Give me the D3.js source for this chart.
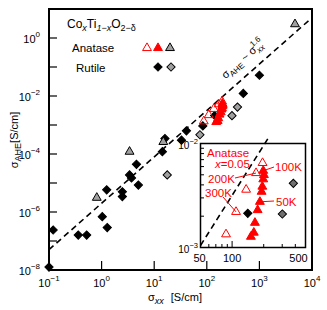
<!DOCTYPE html>
<html>
<head>
<meta charset="utf-8">
<script src="https://cdn.jsdelivr.net/npm/d3@7"></script>
<style>
  body { margin: 0; background: #fff; }
  svg { display: block; font-family: "Liberation Sans", Arial, sans-serif; }
</style>
</head>
<body>
<svg id="chart" width="327" height="310"></svg>
<script>
// Rutile, black diamonds [sigma_xx, sigma_AHE] in S/cm
const rutileBlack = [
  [0.1, 1.26e-8], [0.12, 2.4e-7], [0.36, 1.6e-7], [0.52, 1.6e-7],
  [1.03, 6.9e-7], [1.28, 2.9e-7], [1.25, 5.8e-6], [2.48, 5.0e-6],
  [2.48, 3.4e-6], [3.4, 1.9e-5], [3.7, 1.5e-5], [4.6, 4.4e-5],
  [5.0, 8.5e-6], [14.3, 1.2e-4], [16.0, 3.4e-4], [33, 3.0e-4],
  [41, 6.3e-4], [84, 9.3e-4], [141, 2.13e-3], [494, 1.23e-2], [1000, 5.2e-2]
];
// Rutile, grey diamonds
const rutileGrey = [[17.7, 1.9e-5], [74, 4.6e-4], [301, 2.1e-3], [383, 4.14e-3]];
// Anatase, grey triangles
const anataseGrey = [[0.81, 3.1e-6], [3.4, 1.2e-4], [14.9, 2.6e-4], [4750, 3.0]];
// Anatase x=0.05, open red triangles (high T)
const anataseOpen = [[195, 6.5e-3], [169, 5.2e-3], [136, 3.6e-3], [109, 2.2e-3], [87.5, 1.34e-3]];
// Anatase x=0.05, filled red triangles (low T)
const anataseFilled = [
  [198, 5.47e-3], [201, 4.98e-3], [198, 4.53e-3], [194, 3.85e-3], [191, 3.44e-3],
  [184, 2.75e-3], [175, 2.29e-3], [165, 1.73e-3], [161, 1.39e-3], [151, 1.27e-3]
];
// power law sigma_AHE = A * sigma_xx^1.6
const powerExp = 1.6;
const powerPrefactor = 2.0e-6;

const xTickExps = [-1, 0, 1, 2, 3, 4];
const yMajorExps = [-8, -6, -4, -2, 0];
const yMinorExps = [-7, -5, -3, -1];
const insetXTicks = [50, 100, 500];
const insetXMinor = [60, 70, 80, 90, 200, 300, 400];
const insetYMinor = [2e-3, 3e-3, 4e-3, 5e-3, 6e-3, 7e-3, 8e-3, 9e-3];
// temperature annotations: label, target point, label anchor
const tempNotes = [
  { text: "100K", target: [198, 5.47e-3], lx: 275, ly: 171, ex: 274, ey: 167 },
  { text: "200K", target: [169, 5.2e-3], lx: 208, ly: 183, ex: 235, ey: 178 },
  { text: "300K", target: [109, 2.2e-3], lx: 205, ly: 197, ex: 223, ey: 197 },
  { text: "50K", target: [184, 2.75e-3], lx: 276, ly: 206, ex: 274, ey: 201 }
];

const svg = d3.select("#chart");
const RED = "#ff0000";

const x = d3.scaleLog().domain([1e-1, 1e4]).range([49, 312]);
const y = d3.scaleLog().domain([1e-8, 1e1]).range([270, 9]);

const powerLaw = s => powerPrefactor * Math.pow(s, powerExp);

const triangle = d3.symbol().type(d3.symbolTriangle).size(34)();
const diamond = d3.symbol().type(d3.symbolSquare).size(34)();

function drawMarks(g, data, sx, sy, shape, fill, stroke, rotate) {
  g.selectAll(null)
    .data(data)
    .join("path")
    .attr("d", shape)
    .attr("transform", d => `translate(${sx(d[0])},${sy(d[1])})` + (rotate ? " rotate(45)" : ""))
    .attr("fill", fill)
    .attr("stroke", stroke)
    .attr("stroke-width", 1);
}

// ---- main plot ----
const main = svg.append("g");

// dashed power-law line
main.append("line")
  .attr("x1", x(1e-1)).attr("y1", y(powerLaw(1e-1)))
  .attr("x2", x(1e4)).attr("y2", y(powerLaw(1e4)))
  .attr("stroke", "#000").attr("stroke-width", 1.6)
  .attr("stroke-dasharray", "6,4");

// label along the line
{
  const sx = Math.pow(10, 2.87);
  const px = x(sx), py = y(powerLaw(sx));
  const ang = Math.atan2(y(powerLaw(1e4)) - y(powerLaw(1e-1)), x(1e4) - x(1e-1)) * 180 / Math.PI;
  const t = main.append("text")
    .attr("transform", `translate(${px},${py}) rotate(${ang}) translate(0,-11)`)
    .attr("text-anchor", "middle")
    .attr("font-size", 11);
  t.append("tspan").text("σ");
  t.append("tspan").attr("font-size", 8).attr("dy", 3).text("AHE");
  t.append("tspan").attr("dy", -3).text(" ~ σ");
  t.append("tspan").attr("font-size", 8).attr("dy", 3).attr("font-style", "italic").text("xx");
  t.append("tspan").attr("font-size", 8).attr("dx", -9).attr("dy", -9).text("1.6");
}

drawMarks(main, rutileBlack, x, y, diamond, "#000", "#000", true);
drawMarks(main, rutileGrey, x, y, diamond, "#a0a0a0", "#000", true);
drawMarks(main, anataseGrey, x, y, triangle, "#a0a0a0", "#000", false);
drawMarks(main, anataseFilled, x, y, triangle, RED, RED, false);
drawMarks(main, anataseOpen, x, y, triangle, "none", RED, false);

// frame
main.append("rect")
  .attr("x", 49).attr("y", 9).attr("width", 312 - 49).attr("height", 270 - 9)
  .attr("fill", "none").attr("stroke", "#000").attr("stroke-width", 2);

// x ticks
main.selectAll(null).data(xTickExps).join("line")
  .attr("x1", e => x(Math.pow(10, e))).attr("x2", e => x(Math.pow(10, e)))
  .attr("y1", 270).attr("y2", 261)
  .attr("stroke", "#000").attr("stroke-width", 1.2);
main.selectAll(null).data(xTickExps).join("text")
  .attr("x", e => x(Math.pow(10, e)))
  .attr("y", 287)
  .attr("text-anchor", "middle")
  .attr("font-size", 11)
  .each(function (e) {
    const t = d3.select(this);
    t.append("tspan").text("10");
    t.append("tspan").attr("font-size", 8).attr("dy", -6).text(e < 0 ? "−" + (-e) : e);
  });

// y ticks
main.selectAll(null).data(yMajorExps.concat(yMinorExps)).join("line")
  .attr("x1", 49).attr("x2", 57)
  .attr("y1", e => y(Math.pow(10, e))).attr("y2", e => y(Math.pow(10, e)))
  .attr("stroke", "#000").attr("stroke-width", 1.2);
main.selectAll(null).data(yMajorExps).join("text")
  .attr("x", 40)
  .attr("y", e => y(Math.pow(10, e)) + 5)
  .attr("text-anchor", "end")
  .attr("font-size", 11)
  .each(function (e) {
    const t = d3.select(this);
    t.append("tspan").text("10");
    t.append("tspan").attr("font-size", 8).attr("dy", -6).text(e < 0 ? "−" + (-e) : e);
  });

// axis titles
{
  const t = svg.append("text")
    .attr("transform", "translate(18,140) rotate(-90)")
    .attr("text-anchor", "middle")
    .attr("font-size", 11);
  t.append("tspan").text("σ");
  t.append("tspan").attr("font-size", 9).attr("dy", 3).text("AHE");
  t.append("tspan").attr("dy", -3).text("[S/cm]");
}
{
  const t = svg.append("text").attr("x", 148).attr("y", 301).attr("font-size", 11);
  t.append("tspan").text("σ");
  t.append("tspan").attr("font-size", 9).attr("dy", 3).attr("font-style", "italic").text("xx");
  t.append("tspan").attr("dy", -3).attr("dx", 7).text("[S/cm]");
}

// ---- legend ----
{
  const t = svg.append("text").attr("x", 67).attr("y", 28).attr("font-size", 12);
  t.append("tspan").text("Co");
  t.append("tspan").attr("font-size", 9).attr("dy", 3).attr("font-style", "italic").text("x");
  t.append("tspan").attr("dy", -3).text("Ti");
  t.append("tspan").attr("font-size", 9).attr("dy", 3).attr("font-style", "italic").text("1−x");
  t.append("tspan").attr("dy", -3).text("O");
  t.append("tspan").attr("font-size", 9).attr("dy", 3).text("2−δ");

  svg.append("text").attr("x", 72).attr("y", 52).attr("font-size", 11.5).text("Anatase");
  svg.append("text").attr("x", 76).attr("y", 72).attr("font-size", 11.5).text("Rutile");

  const legendTri = [
    { cx: 147, fill: "none", stroke: RED },
    { cx: 158, fill: RED, stroke: RED },
    { cx: 170, fill: "#a0a0a0", stroke: "#000" }
  ];
  svg.selectAll(null).data(legendTri).join("path")
    .attr("d", triangle)
    .attr("transform", d => `translate(${d.cx},48)`)
    .attr("fill", d => d.fill).attr("stroke", d => d.stroke);
  const legendDia = [
    { cx: 158, fill: "#000" },
    { cx: 171, fill: "#a0a0a0" }
  ];
  svg.selectAll(null).data(legendDia).join("path")
    .attr("d", diamond)
    .attr("transform", d => `translate(${d.cx},67) rotate(45)`)
    .attr("fill", d => d.fill).attr("stroke", "#000");
}

// ---- inset ----
const ix = d3.scaleLog().domain([50, 500]).range([200.5, 305.5]);
const iy = d3.scaleLog().domain([1e-3, 1e-2]).range([247.5, 143.5]);
const inset = svg.append("g");

inset.append("rect")
  .attr("x", 200.5).attr("y", 143.5).attr("width", 105).attr("height", 104)
  .attr("fill", "#fff");

inset.append("clipPath").attr("id", "insetClip")
  .append("rect").attr("x", 200.5).attr("y", 138).attr("width", 105).attr("height", 110);

inset.append("line")
  .attr("clip-path", "url(#insetClip)")
  .attr("x1", ix(50)).attr("y1", iy(powerLaw(50)))
  .attr("x2", ix(250)).attr("y2", iy(powerLaw(250)))
  .attr("stroke", "#000").attr("stroke-width", 1.6)
  .attr("stroke-dasharray", "6,4");

drawMarks(inset, rutileBlack.filter(d => d[0] >= 50 && d[0] <= 500 && d[1] >= 1e-3 && d[1] <= 1e-2), ix, iy, diamond, "#000", "#000", true);
drawMarks(inset, rutileGrey.filter(d => d[0] >= 50 && d[0] <= 500 && d[1] >= 1e-3 && d[1] <= 1e-2), ix, iy, diamond, "#707070", "#000", true);
drawMarks(inset, anataseFilled, ix, iy, triangle, RED, RED, false);
drawMarks(inset, anataseOpen, ix, iy, triangle, "none", RED, false);

inset.append("rect")
  .attr("x", 200.5).attr("y", 143.5).attr("width", 105).attr("height", 104)
  .attr("fill", "none").attr("stroke", "#000").attr("stroke-width", 1.5);

// inset ticks
inset.selectAll(null).data(insetXTicks).join("line")
  .attr("x1", d => ix(d)).attr("x2", d => ix(d))
  .attr("y1", 247.5).attr("y2", 241)
  .attr("stroke", "#000");
inset.selectAll(null).data(insetXMinor).join("line")
  .attr("x1", d => ix(d)).attr("x2", d => ix(d))
  .attr("y1", 247.5).attr("y2", 244)
  .attr("stroke", "#000");
inset.selectAll(null).data([1e-3, 1e-2]).join("line")
  .attr("x1", 200.5).attr("x2", 207)
  .attr("y1", d => iy(d)).attr("y2", d => iy(d))
  .attr("stroke", "#000");
inset.selectAll(null).data(insetYMinor).join("line")
  .attr("x1", 200.5).attr("x2", 204)
  .attr("y1", d => iy(d)).attr("y2", d => iy(d))
  .attr("stroke", "#000");

inset.selectAll(null).data(insetXTicks).join("text")
  .attr("x", d => d === 500 ? ix(d) - 7 : ix(d) - (d === 50 ? 1 : 0))
  .attr("y", 262)
  .attr("text-anchor", "middle")
  .attr("font-size", 11)
  .text(d => d);
inset.selectAll(null).data([-2, -3]).join("text")
  .attr("x", 198)
  .attr("y", e => iy(Math.pow(10, e)) + 5)
  .attr("text-anchor", "end")
  .attr("font-size", 10)
  .each(function (e) {
    const t = d3.select(this);
    t.append("tspan").text("10");
    t.append("tspan").attr("font-size", 7.5).attr("dy", -5).text("−" + (-e));
  });

// inset labels
inset.append("text").attr("x", 207).attr("y", 157).attr("fill", RED).attr("font-size", 11.5).text("Anatase");
{
  const t = inset.append("text").attr("x", 215).attr("y", 168).attr("fill", RED).attr("font-size", 11.5);
  t.append("tspan").attr("font-style", "italic").text("x");
  t.append("tspan").text("=0.05");
}
inset.selectAll(null).data(tempNotes).join("line")
  .attr("x1", d => d.ex).attr("y1", d => d.ey)
  .attr("x2", d => ix(d.target[0])).attr("y2", d => iy(d.target[1]))
  .attr("stroke", RED).attr("stroke-width", 1);
inset.selectAll(null).data(tempNotes).join("text")
  .attr("x", d => d.lx).attr("y", d => d.ly)
  .attr("fill", RED).attr("font-size", 11.5)
  .text(d => d.text);
</script>
</body>
</html>
